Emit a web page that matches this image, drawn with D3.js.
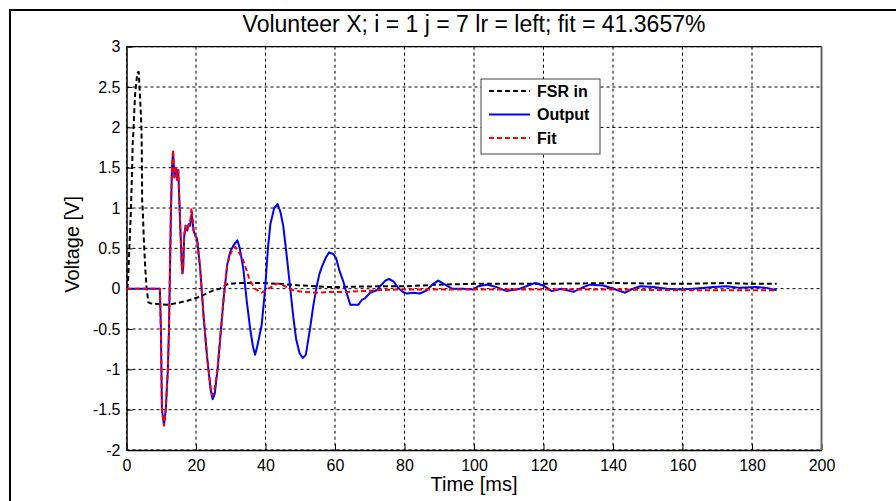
<!DOCTYPE html>
<html>
<head>
<meta charset="utf-8">
<script src="https://cdn.jsdelivr.net/npm/d3@7"></script>
<style>
  body { margin: 0; background: #fff; }
  svg { display: block; font-family: Arial, "Liberation Sans", sans-serif; }
</style>
</head>
<body>
<script>
// time [ms], voltage [V] pairs
var fsrIn = [
  [0,0],[0.3,0.02],[0.5,0.15],[0.8,0.48],[1.2,0.89],[1.5,1.3],[1.8,1.82],[2.0,1.95],[2.2,2.17],
  [2.5,2.42],[3.1,2.67],[3.5,2.69],[3.9,2.38],[4.3,2.0],[4.4,1.72],[4.5,1.1],[4.7,0.95],[5.0,0.6],
  [5.4,0.25],[5.8,0.0],[6.3,-0.17],[6.8,-0.18],[9,-0.19],[11.6,-0.2],[14.4,-0.18],[17.5,-0.15],
  [21.1,-0.1],[25,-0.02],[26.9,0.0],[29.3,0.06],[33,0.07],[39.5,0.07],[44.2,0.06],[50,0.04],
  [58.6,0.02],[73,0.03],[80,0.03],[90,0.05],[100,0.06],[120,0.06],[140,0.07],[160,0.06],
  [172,0.07],[180,0.06],[187.1,0.06]
];

var output = [
  [0,0],[9.6,0],[9.9,-0.5],[10.2,-1.5],[10.8,-1.69],[11.3,-1.5],[11.9,-1.0],[12.2,-0.55],[12.5,0.19],
  [12.8,1.0],[13.1,1.5],[13.4,1.7],[13.8,1.38],[14.2,1.5],[14.6,1.35],[14.9,1.47],[15.2,1.1],[15.5,0.75],
  [15.9,0.3],[16.1,0.19],[16.3,0.25],[16.6,0.65],[17.0,0.78],[17.5,0.72],[17.9,0.8],[18.3,0.78],
  [18.7,0.92],[19.0,0.85],[19.3,0.72],[19.8,0.66],[20.3,0.62],[21.2,0.25],[22.2,-0.35],[23.2,-0.85],
  [24.2,-1.25],[24.8,-1.37],[25.4,-1.3],[26.2,-1.0],[27.0,-0.6],[28.0,-0.1],[29.0,0.3],[29.8,0.45],
  [30.7,0.53],[31.9,0.6],[32.6,0.5],[33.6,0.25],[34.6,-0.15],[35.6,-0.5],[36.4,-0.72],[37.0,-0.82],
  [37.6,-0.72],[38.9,-0.45],[39.9,0.0],[40.7,0.5],[41.4,0.8],[42.5,1.0],[43.5,1.05],[44.3,0.95],
  [45.1,0.78],[46.0,0.45],[47.0,0.05],[48.0,-0.35],[48.8,-0.62],[49.8,-0.8],[50.7,-0.86],[51.6,-0.82],
  [52.8,-0.5],[53.8,-0.2],[54.7,0.02],[55.5,0.18],[56.3,0.28],[57.3,0.38],[58.3,0.45],[59.5,0.43],
  [60.3,0.38],[61.3,0.22],[62.3,0.1],[63.4,-0.06],[64.4,-0.2],[65.5,-0.2],[66.7,-0.2],[67.7,-0.14],
  [68.6,-0.12],[70.1,-0.05],[72,-0.02],[73.2,0.04],[74.5,0.1],[75.5,0.12],[76.8,0.09],[78.2,0.01],
  [79.5,-0.04],[80.6,-0.06],[82.5,-0.05],[84.5,-0.06],[86.4,-0.02],[88.3,0.06],[89.7,0.1],[91.7,0.05],
  [93.6,0.0],[96.9,0.0],[99.8,-0.01],[101.2,0.03],[103.6,0.05],[106.5,0.02],[109.4,-0.03],[113.2,0.0],
  [117.6,0.07],[119.9,0.04],[122.4,-0.03],[125.2,0.0],[128.6,-0.04],[131.5,0.02],[133.4,0.05],
  [137.2,0.04],[140.1,0.0],[143.5,-0.05],[145.8,0.0],[147.8,0.03],[151.6,0.02],[155.5,0.0],
  [159.3,-0.01],[163.1,0.0],[168.9,0.02],[172.7,0.03],[176.5,0.01],[181.4,0.02],[184.2,0.01],[187.1,-0.02]
];

var fit = [
  [0,0],[9.6,0],[9.9,-0.5],[10.2,-1.5],[10.8,-1.7],[11.3,-1.5],[11.9,-1.0],[12.2,-0.55],[12.5,0.19],
  [12.8,1.0],[13.1,1.5],[13.4,1.72],[13.8,1.38],[14.2,1.5],[14.6,1.35],[14.9,1.47],[15.2,1.1],[15.5,0.75],
  [15.9,0.3],[16.1,0.19],[16.3,0.25],[16.6,0.65],[17.0,0.78],[17.5,0.72],[17.9,0.8],[18.3,0.82],
  [18.7,1.0],[19.0,0.9],[19.3,0.72],[19.8,0.66],[20.3,0.62],[21.2,0.25],[22.2,-0.35],[23.2,-0.85],
  [24.2,-1.22],[24.6,-1.32],[25.2,-1.28],[26.2,-1.0],[27.0,-0.6],[28.0,-0.1],[29.0,0.3],[29.8,0.42],
  [30.7,0.5],[31.3,0.52],[32.0,0.48],[33.6,0.35],[34.6,0.22],[35.5,0.1],[37,0.0],[38.4,-0.04],
  [38.9,-0.05],[40.8,0.0],[43.2,0.06],[44.2,0.06],[45.6,0.03],[48,-0.02],[50.9,-0.04],[54.7,-0.05],
  [58.6,-0.04],[63.4,-0.04],[68.1,-0.03],[72,-0.02],[78,-0.01],[90,-0.01],[100,-0.01],[120,-0.01],
  [140,-0.01],[160,-0.02],[187.1,-0.02]
];

var xTicks = [0, 20, 40, 60, 80, 100, 120, 140, 160, 180, 200];
var yTicks = [-2, -1.5, -1, -0.5, 0, 0.5, 1, 1.5, 2, 2.5, 3];
var seriesNames = ["FSR in", "Output", "Fit"];
var titleText = "Volunteer X; i = 1 j = 7 lr = left; fit = 41.3657%";

var W = 896, H = 501;
var margin = {top: 46.7, right: 74.5, bottom: 51, left: 126.5},
    width = W - margin.left - margin.right,
    height = H - margin.top - margin.bottom;

var x = d3.scaleLinear().domain([0, 200]).range([0, width]),
    y = d3.scaleLinear().domain([-2, 3]).range([height, 0]);

var svg = d3.select("body").append("svg")
    .attr("width", W)
    .attr("height", H);

// figure frame
svg.append("rect")
    .attr("x", 10).attr("y", 10)
    .attr("width", 900).attr("height", 500)
    .style("fill", "#fff")
    .style("stroke", "#000")
    .style("stroke-width", 2);

var g = svg.append("g")
    .attr("transform", "translate(" + margin.left + "," + margin.top + ")");

// dotted grid
g.append("g").selectAll("line")
    .data(xTicks)
  .enter().append("line")
    .attr("x1", function(d) { return x(d); })
    .attr("x2", function(d) { return x(d); })
    .attr("y1", 0).attr("y2", height)
    .style("stroke", "#000").style("stroke-width", 1)
    .style("stroke-dasharray", "3,3");

g.append("g").selectAll("line")
    .data(yTicks)
  .enter().append("line")
    .attr("y1", function(d) { return y(d); })
    .attr("y2", function(d) { return y(d); })
    .attr("x1", 0).attr("x2", width)
    .style("stroke", "#000").style("stroke-width", 1)
    .style("stroke-dasharray", "3,3");

// axes (inward ticks like matlab)
var xAxis = d3.axisBottom(x).tickValues(xTicks).tickSizeInner(-6).tickSizeOuter(0).tickPadding(10)
    .tickFormat(d3.format("d"));
var yAxis = d3.axisLeft(y).tickValues(yTicks).tickSizeInner(-6).tickSizeOuter(0).tickPadding(6)
    .tickFormat(function(d) { return String(d); });

g.append("g")
    .attr("class", "axis axis--x")
    .attr("transform", "translate(0," + height + ")")
    .call(xAxis);

g.append("g")
    .attr("class", "axis axis--y")
    .call(yAxis);

g.selectAll(".axis text")
    .style("font-size", "16px")
    .style("fill", "#000");
g.selectAll(".axis .domain").style("stroke", "#000").style("stroke-width", 1.5);
g.selectAll(".axis .tick line").style("stroke", "#000");

// top and right edges of the box
g.append("line").attr("x1", 0).attr("x2", width).attr("y1", 0).attr("y2", 0)
    .style("stroke", "#000").style("stroke-width", 1.2);
g.append("line").attr("x1", width).attr("x2", width).attr("y1", 0).attr("y2", height)
    .style("stroke", "#666").style("stroke-width", 2);

// series
var line = d3.line()
    .x(function(d) { return x(d[0]); })
    .y(function(d) { return y(d[1]); });

var styles = [
  {data: fsrIn, color: "#000", dash: "5,3"},
  {data: output, color: "#0000ff", dash: null},
  {data: fit, color: "#ff0000", dash: "5,3"}
];

styles.forEach(function(s) {
  g.append("path")
      .datum(s.data)
      .attr("d", line)
      .style("fill", "none")
      .style("stroke", s.color)
      .style("stroke-width", 2)
      .style("stroke-linejoin", "round")
      .style("stroke-dasharray", s.dash);
});

// title and labels
svg.append("text")
    .attr("x", margin.left + width / 2)
    .attr("y", 32)
    .attr("text-anchor", "middle")
    .style("font-size", "23px")
    .text(titleText);

svg.append("text")
    .attr("x", margin.left + width / 2)
    .attr("y", 491)
    .attr("text-anchor", "middle")
    .style("font-size", "20px")
    .text("Time [ms]");

svg.append("text")
    .attr("transform", "translate(79," + (margin.top + height / 2 - 4) + ") rotate(-90)")
    .attr("text-anchor", "middle")
    .style("font-size", "20px")
    .text("Voltage [V]");

// legend
var legend = svg.append("g")
    .attr("transform", "translate(481,79)");

legend.append("rect")
    .attr("width", 119).attr("height", 75)
    .style("fill", "#fff")
    .style("stroke", "#444")
    .style("stroke-width", 1);

var item = legend.selectAll(".legend")
    .data(styles)
  .enter().append("g")
    .attr("class", "legend")
    .attr("transform", function(d, i) { return "translate(0," + (12 + i * 23.5) + ")"; });

item.append("line")
    .attr("x1", 8).attr("x2", 49)
    .style("stroke", function(d) { return d.color; })
    .style("stroke-width", 2)
    .style("stroke-dasharray", function(d) { return d.dash; });

item.append("text")
    .attr("x", 56)
    .attr("dy", "0.35em")
    .style("font-size", "16px")
    .style("font-weight", "bold")
    .text(function(d, i) { return seriesNames[i]; });
</script>
</body>
</html>
